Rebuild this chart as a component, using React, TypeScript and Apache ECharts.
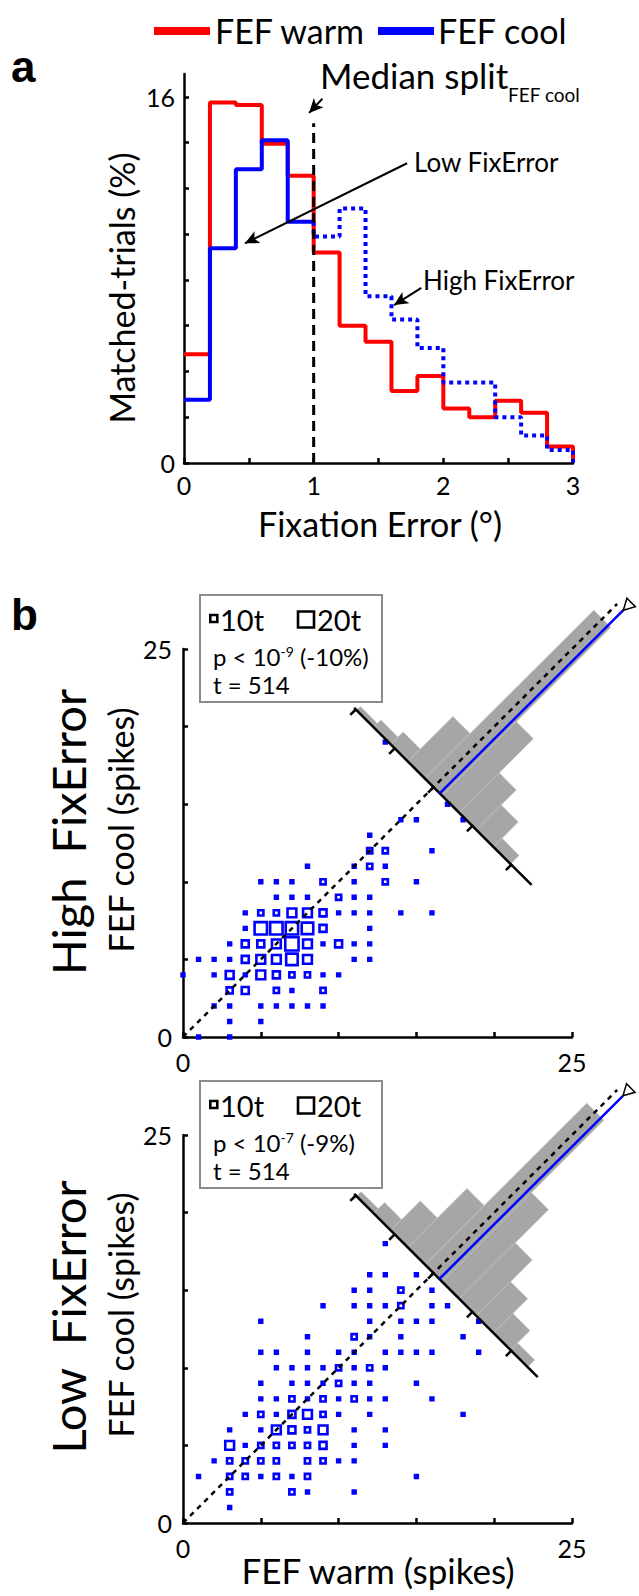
import React, { useEffect, useRef } from 'react';
import * as echarts from 'echarts';

const FONT = 'Lato, "Open Sans", sans-serif';
const BOLD_FONT = '"Liberation Sans", Arial, sans-serif';

// ---------------- Panel a: fixation-error histograms ----------------
const fixErrorBinStart = [0, 0.2, 0.4, 0.6, 0.8, 1.0, 1.2, 1.4, 1.6, 1.8, 2.0, 2.2, 2.4, 2.6, 2.8];
const fixErrorBinEnd = 3.0;
const warmPercent = [4.75, 15.75, 15.65, 13.95, 12.55, 9.2, 6.0, 5.3, 3.15, 3.8, 2.38, 2.0, 2.72, 2.2, 0.72];
const coolPercent = [2.76, 9.38, 12.84, 14.1, 10.54, 9.9, 11.12, 7.29, 6.27, 5.03, 3.52, 3.52, 2.0, 1.2, 0.57];
const medianSplitValue = 1.0;
const medianLineTop = 14.85;
const aXTicks = [0, 0.5, 1, 1.5, 2, 2.5, 3];
const aXLabels = [0, 1, 2, 3];
const aYTicks = [0, 2, 4, 6, 8, 10, 12, 14, 16];
const aYLabels = [0, 16];
// annotation arrows [fromX, fromY, toX, toY] in panel-a data units
const medianArrow = [1.067, 15.92, 0.965, 15.3];
const lowArrow = [1.72, 13.1, 0.47, 9.6];
const highArrow = [1.83, 7.65, 1.62, 6.9];

// ---------------- Panel b: scatter (warm, cool, trials) ----------------
const highFixPoints = [
  [13, 19, 3],
  [17, 15, 3],
  [14, 14, 3], [15, 14, 3], [18, 14, 3],
  [12, 13, 3],
  [12, 12, 8], [13, 12, 8], [16, 12, 3],
  [8, 11, 3], [11, 11, 3], [12, 11, 8], [13, 11, 3],
  [5, 10, 3], [6, 10, 3], [7, 10, 3], [9, 10, 8], [11, 10, 3], [13, 10, 8], [15, 10, 3],
  [6, 9, 3], [7, 9, 3], [8, 9, 3], [10, 9, 8], [11, 9, 3], [12, 9, 3],
  [4, 8, 3], [5, 8, 8], [6, 8, 8], [7, 8, 12], [8, 8, 12], [9, 8, 10], [10, 8, 3], [11, 8, 3], [12, 8, 3], [14, 8, 3], [16, 8, 3],
  [4, 7, 3], [5, 7, 16], [6, 7, 16], [7, 7, 16], [8, 7, 15], [9, 7, 10], [12, 7, 3],
  [3, 6, 3], [4, 6, 10], [5, 6, 10], [6, 6, 12], [7, 6, 17], [8, 6, 12], [9, 6, 3], [10, 6, 10], [11, 6, 3], [12, 6, 3],
  [1, 5, 3], [2, 5, 3], [3, 5, 3], [4, 5, 10], [5, 5, 12], [6, 5, 12], [7, 5, 15], [8, 5, 12], [11, 5, 3], [12, 5, 3],
  [0, 4, 3], [2, 4, 3], [3, 4, 11], [4, 4, 3], [5, 4, 12], [6, 4, 10], [7, 4, 8], [8, 4, 8], [9, 4, 3], [10, 4, 3],
  [3, 3, 9], [4, 3, 10], [6, 3, 8], [7, 3, 3], [9, 3, 8],
  [2, 2, 3], [3, 2, 3], [5, 2, 3], [6, 2, 3], [7, 2, 3], [8, 2, 3], [9, 2, 3],
  [3, 1, 3], [5, 1, 3],
  [1, 0, 3], [3, 0, 3],
];
const lowFixPoints = [
  [13, 18, 3],
  [12, 16, 3], [13, 16, 3], [15, 16, 3],
  [11, 15, 3], [12, 15, 3], [14, 15, 8], [16, 15, 3],
  [9, 14, 3], [11, 14, 3], [12, 14, 3], [13, 14, 3], [14, 14, 8], [16, 14, 3], [17, 14, 3],
  [5, 13, 3], [12, 13, 3], [14, 13, 3], [15, 13, 3], [16, 13, 3], [19, 13, 3],
  [8, 12, 3], [11, 12, 8], [12, 12, 3], [14, 12, 3], [18, 12, 3],
  [5, 11, 3], [6, 11, 3], [8, 11, 3], [10, 11, 3], [11, 11, 3], [13, 11, 3], [14, 11, 3], [15, 11, 3], [16, 11, 3], [19, 11, 3],
  [6, 10, 3], [7, 10, 3], [8, 10, 3], [9, 10, 3], [10, 10, 8], [11, 10, 3], [12, 10, 8], [13, 10, 3],
  [5, 9, 3], [7, 9, 3], [8, 9, 3], [9, 9, 3], [10, 9, 8], [11, 9, 3], [12, 9, 3], [15, 9, 3],
  [5, 8, 3], [6, 8, 3], [7, 8, 8], [8, 8, 3], [9, 8, 8], [10, 8, 3], [11, 8, 8], [12, 8, 3], [13, 8, 3], [16, 8, 3],
  [4, 7, 3], [5, 7, 8], [6, 7, 3], [7, 7, 10], [8, 7, 12], [9, 7, 8], [10, 7, 3], [12, 7, 3], [18, 7, 3],
  [3, 6, 3], [5, 6, 3], [6, 6, 12], [7, 6, 10], [8, 6, 8], [9, 6, 12], [11, 6, 3], [13, 6, 3],
  [3, 5, 12], [4, 5, 3], [5, 5, 8], [6, 5, 8], [7, 5, 8], [8, 5, 8], [9, 5, 10], [11, 5, 3], [13, 5, 3],
  [2, 4, 3], [3, 4, 8], [4, 4, 8], [5, 4, 8], [6, 4, 8], [8, 4, 8], [9, 4, 8], [10, 4, 3], [11, 4, 3],
  [1, 3, 3], [3, 3, 8], [4, 3, 8], [5, 3, 3], [6, 3, 8], [7, 3, 3], [8, 3, 8], [15, 3, 3],
  [3, 2, 8], [7, 2, 8], [8, 2, 3], [11, 2, 3],
  [3, 1, 3],
];
const scatterTicks = [0, 5, 10, 15, 20, 25];
const scatterLabels = [0, 25];
const legendTrials = [10, 20];

// difference histograms drawn along the anti-diagonal (cool - warm, spikes)
const diffEdges = [9.9, 7.7, 5.5, 3.3, 1.1, -1.1, -3.3, -5.5, -7.7, -9.9, -12.1];
const highDiffHist = [0.25, 0.47, 0.8, 2.9, 10.85, 4.77, 2.57, 1.6, 0.55, 0];
const lowDiffHist = [0.3, 0.7, 1.9, 3.8, 10.4, 5.74, 3.6, 2.2, 1.25, 0.45];
const diffTicks = [10, 5, 0, -5, -10];
const histCenter = 16.1;
const meanLineLength = 11.8;
const highMeanDiff = -0.8;
const lowMeanDiff = -0.75;
const highDiffRange = [10.2, -12.6];
const lowDiffRange = [10.2, -13.4];

const sizeFor = (c: number) => Math.max(2.8, 0.9 * c - 2);

function stairs(starts: number[], vals: number[], end: number, toZero: boolean) {
  const pts: number[][] = starts.map((x, i) => [x, vals[i]]);
  pts.push([end, vals[vals.length - 1]]);
  if (toZero) pts.push([end, 0]);
  return pts;
}

const warmStairs = stairs(fixErrorBinStart, warmPercent, fixErrorBinEnd, true);
const solidIdx = fixErrorBinStart.map((x, i) => i).filter((i) => fixErrorBinStart[i] < medianSplitValue);
const lastSolid = solidIdx[solidIdx.length - 1];
const coolSolid = stairs(
  solidIdx.map((i) => fixErrorBinStart[i]),
  solidIdx.map((i) => coolPercent[i]),
  medianSplitValue,
  false
);
const dottedIdx = fixErrorBinStart.map((x, i) => i).filter((i) => fixErrorBinStart[i] >= medianSplitValue);
const coolDotted = [[medianSplitValue, coolPercent[lastSolid]]].concat(
  stairs(
    dottedIdx.map((i) => fixErrorBinStart[i]),
    dottedIdx.map((i) => coolPercent[i]),
    fixErrorBinEnd,
    true
  )
);

const axisLineStyle = { show: true, onZero: false, lineStyle: { color: '#000', width: 2.5 } };
const tickStyle = { show: true, inside: true, length: 5, lineStyle: { color: '#000', width: 2.5 } };
const labelStyle = { color: '#000', fontSize: 25, fontFamily: FONT };

function valueAxis(gridIndex: number, min: number, max: number, interval: number, ticks: number[], labels: number[], margin: number) {
  return {
    type: 'value',
    gridIndex,
    min,
    max,
    interval,
    axisLine: axisLineStyle,
    axisTick: { ...tickStyle, customValues: ticks },
    splitLine: { show: false },
    axisLabel: {
      ...labelStyle,
      margin,
      customValues: labels,
      formatter: (v: number) => (labels.indexOf(v) >= 0 ? String(v) : ''),
    },
  };
}

function histSeries(gridIndex: number, hist: number[]) {
  const data = hist.map((h, i) => [diffEdges[i], diffEdges[i + 1], h]).filter((d) => d[2] > 0);
  return {
    type: 'custom',
    xAxisIndex: gridIndex,
    yAxisIndex: gridIndex,
    clip: false,
    silent: true,
    z: 2,
    data,
    renderItem: (params: any, api: any) => {
      const d1 = api.value(0);
      const d2 = api.value(1);
      const h = api.value(2);
      const c = histCenter;
      const P = (d: number, s: number) => api.coord([c - d / 2 + s, c + d / 2 + s]);
      return {
        type: 'polygon',
        shape: { points: [P(d1, 0), P(d2, 0), P(d2, h), P(d1, h)] },
        style: { fill: '#a6a6a6', stroke: '#c2c2c2', lineWidth: 0.6 },
      };
    },
  };
}

function overlaySeries(gridIndex: number, meanDiff: number, range: number[]) {
  return {
    type: 'custom',
    xAxisIndex: gridIndex,
    yAxisIndex: gridIndex,
    clip: false,
    silent: true,
    z: 5,
    data: [[meanDiff, range[0], range[1]]],
    renderItem: (params: any, api: any) => {
      const mean = api.value(0);
      const r0 = api.value(1);
      const r1 = api.value(2);
      const c = histCenter;
      const L = meanLineLength;
      const P = (d: number, s: number) => api.coord([c - d / 2 + s, c + d / 2 + s]);
      const seg = (a: number[], b: number[], style: any) => ({
        type: 'line',
        shape: { x1: a[0], y1: a[1], x2: b[0], y2: b[1] },
        style,
      });
      const children: any[] = [];
      children.push(seg(P(r0, 0), P(r1, 0), { stroke: '#000', lineWidth: 2.5 }));
      diffTicks.forEach((d) => {
        children.push(seg(P(d, 0.05), P(d, -0.35), { stroke: '#000', lineWidth: 2.5 }));
      });
      children.push(seg(api.coord([0, 0]), api.coord([c + L, c + L]), { stroke: '#000', lineWidth: 2.5, lineDash: [5, 5] }));
      const m0 = P(mean, 0);
      const m1 = P(mean, L);
      children.push(seg(m0, m1, { stroke: '#0000ff', lineWidth: 2.5 }));
      const dx = m1[0] - m0[0];
      const dy = m1[1] - m0[1];
      const len = Math.hypot(dx, dy);
      const ux = dx / len;
      const uy = dy / len;
      const vx = -uy;
      const vy = ux;
      const bc = [m1[0] + ux * 11, m1[1] + uy * 11];
      children.push({
        type: 'polygon',
        shape: { points: [m1, [bc[0] + vx * 6, bc[1] + vy * 6], [bc[0] - vx * 6, bc[1] - vy * 6]] },
        style: { fill: '#fff', stroke: '#000', lineWidth: 1.5 },
      });
      return { type: 'group', children };
    },
  };
}

function scatterSeries(gridIndex: number, pts: number[][]) {
  return {
    type: 'scatter',
    xAxisIndex: gridIndex,
    yAxisIndex: gridIndex,
    symbol: 'rect',
    symbolSize: (v: number[]) => sizeFor(v[2]),
    itemStyle: { color: '#ffffff', borderColor: '#0000ff', borderWidth: 2.6, opacity: 1 },
    z: 3,
    silent: true,
    data: pts,
  };
}

const txt = (x: number, y: number, text: string, size: number, extra: any = {}) => ({
  type: 'text',
  x,
  y,
  rotation: extra.rotation || 0,
  z: 100,
  style: {
    text,
    fontSize: size,
    fontFamily: extra.fontFamily || FONT,
    fontWeight: extra.fontWeight || 'normal',
    fill: '#000',
    align: extra.align || 'left',
    verticalAlign: 'middle',
    rich: extra.rich,
  },
});

function statBox(top: number, pText: string, tText: string) {
  const s10 = sizeFor(legendTrials[0]);
  const s20 = sizeFor(legendTrials[1]);
  return [
    { type: 'rect', z: 90, shape: { x: 200, y: top, width: 182, height: 107 }, style: { fill: '#fff', stroke: '#8c8c8c', lineWidth: 2 } },
    { type: 'rect', z: 95, shape: { x: 213.8 - s10 / 2, y: top + 23.5 - s10 / 2, width: s10, height: s10 }, style: { fill: '#fff', stroke: '#000', lineWidth: 2.6 } },
    txt(220, top + 24, legendTrials[0] + 't', 29),
    { type: 'rect', z: 95, shape: { x: 306 - s20 / 2, y: top + 24.5 - s20 / 2, width: s20, height: s20 }, style: { fill: '#fff', stroke: '#000', lineWidth: 2.6 } },
    txt(317, top + 24, legendTrials[1] + 't', 29),
    txt(213, top + 61, pText, 24, { rich: { sup: { fontSize: 14, fontFamily: FONT, verticalAlign: 'top', fill: '#000' } } }),
    txt(213, top + 89, tText, 24),
  ];
}

const graphics: any[] = [
  // legend
  { type: 'rect', z: 100, shape: { x: 154, y: 27, width: 56, height: 8 }, style: { fill: '#ff0000' } },
  txt(215, 30, 'FEF warm', 34),
  { type: 'rect', z: 100, shape: { x: 378, y: 27, width: 56, height: 8 }, style: { fill: '#0000ff' } },
  txt(438, 30, 'FEF cool', 34),
  txt(11, 66, 'a', 44, { fontFamily: BOLD_FONT, fontWeight: 'bold' }),
  txt(320, 75, 'Median split', 35),
  txt(508, 94, 'FEF cool', 19),
  txt(414, 162, 'Low FixError', 26),
  txt(423, 280, 'High FixError', 26),
  txt(121, 288, 'Matched-trials (%)', 34, { rotation: Math.PI / 2, align: 'center' }),
  txt(380, 523, 'Fixation Error (°)', 34, { align: 'center' }),
  txt(11, 614, 'b', 44, { fontFamily: BOLD_FONT, fontWeight: 'bold' }),
  txt(68, 832, 'High  FixError', 47, { rotation: Math.PI / 2, align: 'center' }),
  txt(120, 830, 'FEF cool (spikes)', 34, { rotation: Math.PI / 2, align: 'center' }),
  txt(68, 1317, 'Low  FixError', 47, { rotation: Math.PI / 2, align: 'center' }),
  txt(120, 1315, 'FEF cool (spikes)', 34, { rotation: Math.PI / 2, align: 'center' }),
  txt(378, 1570, 'FEF warm (spikes)', 35, { align: 'center' }),
  ...statBox(595, 'p < 10{sup|-9} (-10%)', 't = 514'),
  ...statBox(1081, 'p < 10{sup|-7} (-9%)', 't = 514'),
];

const arrowLines = [medianArrow, lowArrow, highArrow].map((a) => [
  { coord: [a[0], a[1]] },
  { coord: [a[2], a[3]] },
]);

const option: any = {
  animation: false,
  backgroundColor: '#ffffff',
  grid: [
    { left: 184, top: 74, width: 389, height: 389 },
    { left: 183, top: 649, width: 389, height: 388 },
    { left: 183, top: 1135, width: 389, height: 388 },
  ],
  xAxis: [
    valueAxis(0, 0, 3, 0.5, aXTicks, aXLabels, 9),
    valueAxis(1, 0, 25, 5, scatterTicks, scatterLabels, 12),
    valueAxis(2, 0, 25, 5, scatterTicks, scatterLabels, 12),
  ],
  yAxis: [
    valueAxis(0, 0, 17, 2, aYTicks, aYLabels, 9),
    valueAxis(1, 0, 25, 5, scatterTicks, scatterLabels, 11),
    valueAxis(2, 0, 25, 5, scatterTicks, scatterLabels, 11),
  ],
  series: [
    {
      name: 'FEF warm',
      type: 'line',
      xAxisIndex: 0,
      yAxisIndex: 0,
      step: 'end',
      symbol: 'none',
      silent: true,
      z: 2,
      lineStyle: { color: '#ff0000', width: 4 },
      data: warmStairs,
    },
    {
      name: 'FEF cool',
      type: 'line',
      xAxisIndex: 0,
      yAxisIndex: 0,
      step: 'end',
      symbol: 'none',
      silent: true,
      z: 3,
      lineStyle: { color: '#0000ff', width: 4 },
      data: coolSolid,
    },
    {
      name: 'FEF cool high',
      type: 'line',
      xAxisIndex: 0,
      yAxisIndex: 0,
      step: 'end',
      symbol: 'none',
      silent: true,
      z: 3,
      lineStyle: { color: '#0000ff', width: 4, type: [4, 4] },
      data: coolDotted,
    },
    {
      name: 'median',
      type: 'line',
      xAxisIndex: 0,
      yAxisIndex: 0,
      symbol: 'none',
      silent: true,
      z: 4,
      lineStyle: { color: '#000', width: 3, type: [10, 6] },
      data: [[medianSplitValue, 0], [medianSplitValue, medianLineTop]],
      markLine: {
        silent: true,
        symbol: ['none', 'arrow'],
        symbolSize: [10, 14],
        label: { show: false },
        emphasis: { disabled: true },
        lineStyle: { color: '#000', width: 2, type: 'solid' },
        itemStyle: { color: '#000' },
        data: arrowLines,
      },
    },
    histSeries(1, highDiffHist),
    scatterSeries(1, highFixPoints),
    overlaySeries(1, highMeanDiff, highDiffRange),
    histSeries(2, lowDiffHist),
    scatterSeries(2, lowFixPoints),
    overlaySeries(2, lowMeanDiff, lowDiffRange),
  ],
  graphic: graphics,
};

export default function App() {
  const ref = useRef<HTMLDivElement>(null);
  useEffect(() => {
    document.body.style.margin = '0';
    const chart = echarts.init(ref.current as HTMLDivElement, null, { renderer: 'svg' });
    chart.setOption(option);
    return () => chart.dispose();
  }, []);
  return <div ref={ref} style={{ width: 639, height: 1596 }} />;
}
